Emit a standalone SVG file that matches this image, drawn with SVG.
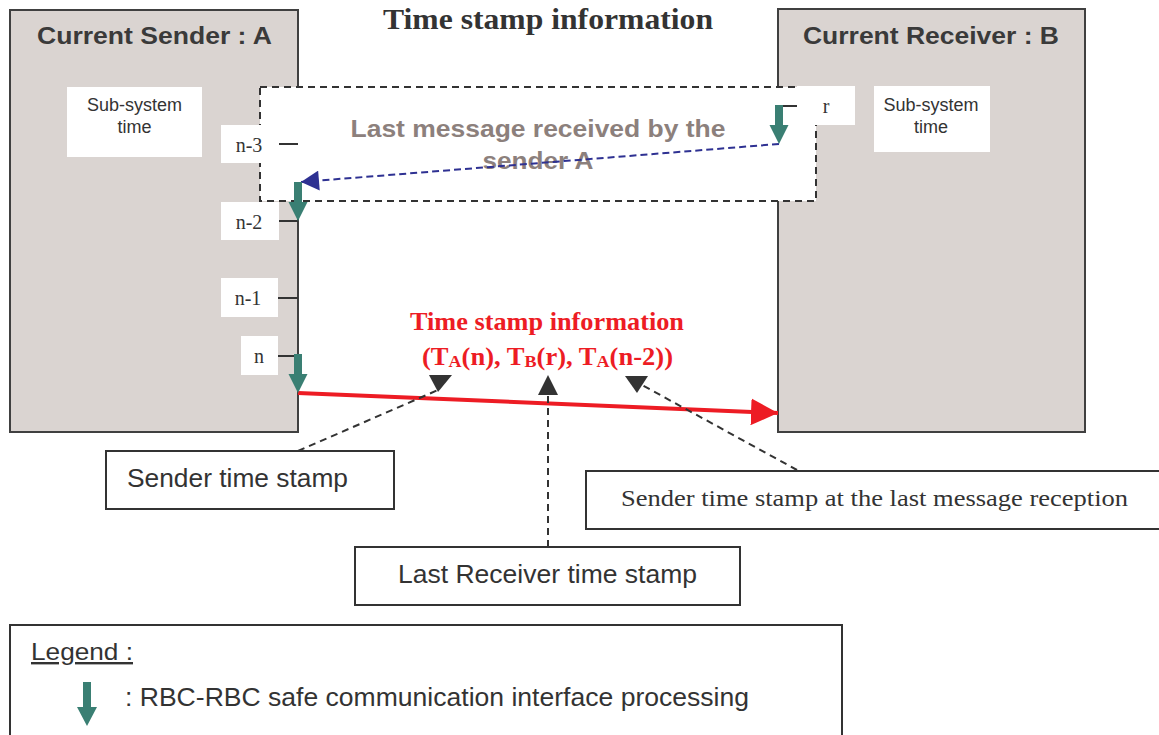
<svg xmlns="http://www.w3.org/2000/svg" width="1159" height="735" viewBox="0 0 1159 735">
<style>
.sys{fill:#dad4d1;stroke:#404040;stroke-width:2}
.wb{fill:#fff;stroke:none}
.box{fill:#fff;stroke:#333;stroke-width:2}
.tick{stroke:#333;stroke-width:2}
.sans{font-family:"Liberation Sans",Arial,sans-serif}
.serif{font-family:"Liberation Serif","Times New Roman",serif}
.ttl{font-size:23px;font-weight:bold;fill:#3a3a3a}
.sub{font-size:18px;fill:#333;text-anchor:middle}
.lbl{font-size:20px;fill:#333;text-anchor:middle}
.cap{font-size:26px;fill:#333}
.teal{fill:#3a7f73}
.blk{stroke:#333;stroke-width:2;stroke-dasharray:7 5;fill:none}
.head{fill:#333}
</style>
<defs>
<path id="tarrow" d="M-4,-39 h8 v20 h5.5 l-9.5,19 l-9.5,-19 h5.5 z"/>
<marker id="blueHead" markerUnits="userSpaceOnUse" markerWidth="20" markerHeight="20" viewBox="0 0 18 20" refX="18" refY="10" orient="auto">
<path d="M0,0 L18,10 L0,20 z" fill="#2e3192"/>
</marker>
<marker id="redHead" markerUnits="userSpaceOnUse" markerWidth="27" markerHeight="27" viewBox="0 0 26 26" refX="26" refY="13" orient="auto">
<path d="M0,0 L26,13 L0,26 z" fill="#ed1c24"/>
</marker>
</defs>
<rect width="1159" height="735" fill="#fff"/>

<text class="serif" x="548" y="29" text-anchor="middle" font-size="29" font-weight="bold" fill="#333" textLength="330" lengthAdjust="spacingAndGlyphs">Time stamp information</text>

<g id="sender">
<rect class="sys" x="10" y="10" width="288" height="422"/>
<text class="sans ttl" x="37" y="43.5" textLength="235" lengthAdjust="spacingAndGlyphs">Current Sender : A</text>
<rect class="wb" x="67" y="87" width="135" height="70"/>
<text class="sans sub" x="134.5" y="111">Sub-system</text>
<text class="sans sub" x="134.5" y="133">time</text>
</g>

<g id="receiver">
<rect class="sys" x="778" y="9" width="307" height="423"/>
<text class="sans ttl" x="803" y="44" textLength="256" lengthAdjust="spacingAndGlyphs">Current Receiver : B</text>
<rect class="wb" x="874" y="86" width="116" height="66"/>
<text class="sans sub" x="931" y="111">Sub-system</text>
<text class="sans sub" x="931" y="133">time</text>
</g>

<g id="last-message">
<rect x="260" y="87" width="556" height="114" fill="#fff" stroke="#333" stroke-width="2" stroke-dasharray="7 5"/>
<text class="sans" x="538" y="137" text-anchor="middle" font-size="24" font-weight="bold" fill="#8c807c" textLength="375" lengthAdjust="spacingAndGlyphs">Last message received by the</text>
<text class="sans" x="538" y="169" text-anchor="middle" font-size="24" font-weight="bold" fill="#8c807c" textLength="111" lengthAdjust="spacingAndGlyphs">sender A</text>
</g>

<g id="labels">
<rect class="wb" x="221" y="125" width="56" height="38"/>
<text class="serif lbl" x="249" y="152">n-3</text>
<line class="tick" x1="279" y1="144" x2="298" y2="144"/>
<rect class="wb" x="221" y="202" width="58" height="38"/>
<text class="serif lbl" x="249" y="229">n-2</text>
<line class="tick" x1="279" y1="221" x2="298" y2="221"/>
<rect class="wb" x="221" y="278" width="57" height="39"/>
<text class="serif lbl" x="248" y="305">n-1</text>
<line class="tick" x1="278" y1="298" x2="298" y2="298"/>
<rect class="wb" x="241" y="336" width="37" height="39"/>
<text class="serif lbl" x="259" y="363">n</text>
<line class="tick" x1="278" y1="356" x2="298" y2="356"/>
<rect class="wb" x="797" y="86" width="58" height="39"/>
<text class="serif lbl" x="826" y="113">r</text>
<line class="tick" x1="779" y1="106" x2="797" y2="106"/>
</g>

<g id="connectors">
<line x1="779" y1="144" x2="301" y2="182" stroke="#2e3192" stroke-width="2" stroke-dasharray="7 4" marker-end="url(#blueHead)"/>
<line x1="298" y1="393" x2="778" y2="413" stroke="#ed1c24" stroke-width="4" marker-end="url(#redHead)"/>
<line class="blk" x1="298" y1="451" x2="438" y2="390"/>
<polygon class="head" points="429,375 452,375 438,392"/>
<line class="blk" x1="548" y1="547" x2="548" y2="393"/>
<polygon class="head" points="548,375 538,395 558,395"/>
<line class="blk" x1="797" y1="470" x2="642" y2="385"/>
<polygon class="head" points="625,376 648,376 637,393"/>
</g>

<g id="processing">
<use href="#tarrow" class="teal" x="298" y="221"/>
<use href="#tarrow" class="teal" x="298" y="393"/>
<use href="#tarrow" class="teal" x="779" y="144"/>
</g>

<g id="timestamp-info">
<text class="serif" x="547" y="330" text-anchor="middle" font-size="25" font-weight="bold" fill="#ed1c24" textLength="274" lengthAdjust="spacingAndGlyphs">Time stamp information</text>
<text class="serif" x="422" y="365" font-size="25" font-weight="bold" fill="#ed1c24" textLength="251" lengthAdjust="spacingAndGlyphs">(T<tspan font-size="17" dy="2">A</tspan><tspan dy="-2">(n), T</tspan><tspan font-size="17" dy="2">B</tspan><tspan dy="-2">(r), T</tspan><tspan font-size="17" dy="2">A</tspan><tspan dy="-2">(n-2))</tspan></text>
</g>

<g id="sender-ts">
<rect class="box" x="106" y="451" width="288" height="58"/>
<text class="sans cap" x="127" y="487" textLength="221" lengthAdjust="spacingAndGlyphs">Sender time stamp</text>
</g>

<g id="sender-ts-last">
<rect class="box" x="586" y="471" width="600" height="58"/>
<text class="serif" x="621" y="506" font-size="24" fill="#333" textLength="507" lengthAdjust="spacingAndGlyphs">Sender time stamp at the last message reception</text>
</g>

<g id="receiver-ts">
<rect class="box" x="355" y="547" width="385" height="58"/>
<text class="sans cap" x="547.5" y="583" text-anchor="middle" textLength="299" lengthAdjust="spacingAndGlyphs">Last Receiver time stamp</text>
</g>

<g id="legend">
<rect class="box" x="10" y="625" width="832" height="130"/>
<text class="sans" x="31" y="660" font-size="24" fill="#333" text-decoration="underline" textLength="102" lengthAdjust="spacingAndGlyphs">Legend :</text>
<path class="teal" d="M83,682 h8 v25 h6 l-10,19 l-10,-19 h6 z"/>
<text class="sans" x="125" y="706" font-size="25" fill="#333" textLength="624" lengthAdjust="spacingAndGlyphs">: RBC-RBC safe communication interface processing</text>
</g>
</svg>
